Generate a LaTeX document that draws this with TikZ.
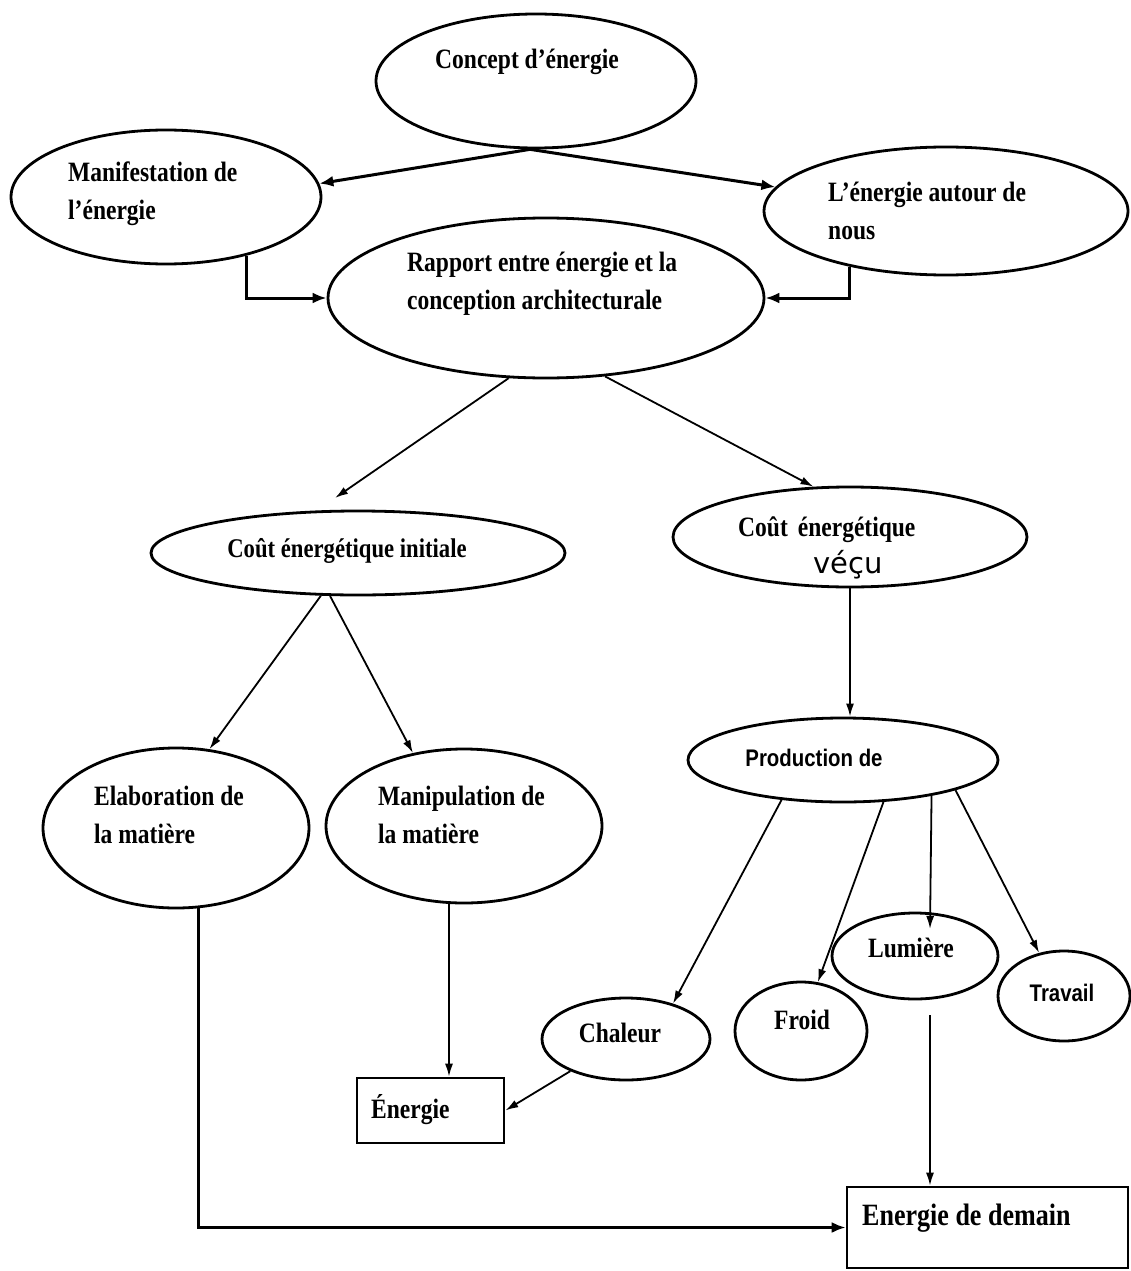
\documentclass[tikz,border=0pt]{standalone}
\usepackage{fontspec}
\setmainfont{Liberation Serif}[FakeStretch=0.84]
\newfontfamily\sansb{Liberation Sans}[FakeStretch=0.85]
\newfontfamily\dejavu{DejaVu Sans}
\usetikzlibrary{shapes.geometric,arrows.meta,calc}
\begin{document}
\begin{tikzpicture}[x=1pt,y=-1pt,
  ell/.style={ellipse, draw, line width=2.8pt, inner sep=0pt},
  boxn/.style={rectangle, draw, line width=2.6pt, inner sep=0pt},
  lbl/.style={font=\fontsize{28}{38}\selectfont\bfseries, inner sep=0pt, align=left},
  slbl/.style={font=\sansb\fontsize{24}{30}\selectfont\bfseries, inner sep=0pt},
  thickarr/.style={line width=3pt, -{Latex[length=14pt,width=11pt]}},
  thinarr/.style={line width=1.8pt, -{Latex[length=13pt,width=8pt]}}]
\useasboundingbox (0,0) rectangle (1130,1271);
\fill[white] (0,0) rectangle (1130,1271);

% ellipses
\node[ell, minimum width=320pt, minimum height=134pt] (concept) at (536,81) {};
\node[ell, minimum width=310pt, minimum height=134pt] (manif) at (166,197) {};
\node[ell, minimum width=364pt, minimum height=128pt] (autour) at (946,211) {};
\node[ell, minimum width=436pt, minimum height=160pt] (rapport) at (546,298) {};
\node[ell, minimum width=414pt, minimum height=84pt] (init) at (358,553) {};
\node[ell, minimum width=354pt, minimum height=100pt] (vecu) at (850,537) {};
\node[ell, minimum width=266pt, minimum height=160pt] (elab) at (176,828) {};
\node[ell, minimum width=276pt, minimum height=154pt] (manip) at (464,826) {};
\node[ell, minimum width=310pt, minimum height=84pt] (prod) at (843,760) {};
\node[ell, minimum width=166pt, minimum height=86pt] (lum) at (915,956) {};
\node[ell, minimum width=132pt, minimum height=90pt] (trav) at (1064,996) {};
\node[ell, minimum width=132pt, minimum height=98pt] (froid) at (801,1031) {};
\node[ell, minimum width=168pt, minimum height=82pt] (chal) at (626,1039) {};
\node[boxn, minimum width=147pt, minimum height=65pt] (energie) at (430.5,1110.5) {};
\node[boxn, minimum width=281pt, minimum height=81pt] (demain) at (987.5,1227.5) {};

% texts
\node[lbl] (tconcept) at (527,62) {Concept d’énergie};
\node[lbl, anchor=west] (tmanif) at (68,194) {Manifestation de\\l’énergie};
\node[lbl, anchor=west] (tautour) at (828,211) {L’énergie autour de\\nous};
\node[lbl, anchor=west] (trapport) at (407,284) {Rapport entre énergie et la\\conception architecturale};
\node[lbl, font=\fontsize{27}{30}\selectfont\bfseries] (tinit) at (347,551) {Coût énergétique initiale};
\node[lbl, anchor=west] (tvecu) at (738,530) {Coût\hspace{10pt}énergétique};
\node[inner sep=0pt, font=\dejavu\fontsize{29}{32}\selectfont] (tvecu2) at (848,565) {véçu};
\node[lbl, anchor=west] (telab) at (94,815) {Elaboration de\\la matière};
\node[lbl, anchor=west] (tmanip) at (378,815) {Manipulation de\\la matière};
\node[slbl] (tprod) at (814,758) {Production de};
\node[lbl] (tlum) at (911,948) {Lumière};
\node[slbl] (ttrav) at (1062,993) {Travail};
\node[lbl] (tfroid) at (802,1020) {Froid};
\node[lbl] (tchal) at (620,1033) {Chaleur};
\node[lbl, anchor=west] (tenergie) at (371,1110) {Énergie};
\node[lbl, anchor=west, font=\fontsize{31}{34}\selectfont\bfseries] (tdemain) at (862,1218) {Energie de demain};

% connectors
\draw[thickarr] (concept.265) -- (manif.5);
\draw[thickarr] (concept.265) -- (autour.172);
\draw[thickarr] (manif.-36) |- (rapport.west);
\draw[thickarr] (autour.-150) |- (rapport.east);
\draw[thinarr, shorten >=22pt] (rapport.-115) -- (init.134);
\draw[thinarr] (rapport.-53) -- (vecu.126);
\draw[thinarr] (init.-131) -- (elab.67);
\draw[thinarr] (init.-123) -- (manip.125);
\draw[thinarr] (vecu.south) -- (vecu.south |- prod.north);
\draw[thinarr] (prod.-147) -- (chal.37);
\draw[thinarr] (prod.-46) -- (froid.71);
\coordinate (lumtip) at (930,929);
\draw[thinarr] (prod.-22) -- (lumtip);
\draw[thinarr] (prod.-15) -- (trav.120);
\draw[thinarr] (chal.-150) -- (energie.east);
\draw[thinarr] ([xshift=-15pt]manip.south) -- ([xshift=-15pt]manip.south |- energie.north);
\coordinate (lumbot) at (930,1015);
\draw[thinarr] (lumbot) -- (lumbot |- demain.north);
\draw[thickarr] (elab.-74) |- (demain.west);
\end{tikzpicture}
\end{document}
